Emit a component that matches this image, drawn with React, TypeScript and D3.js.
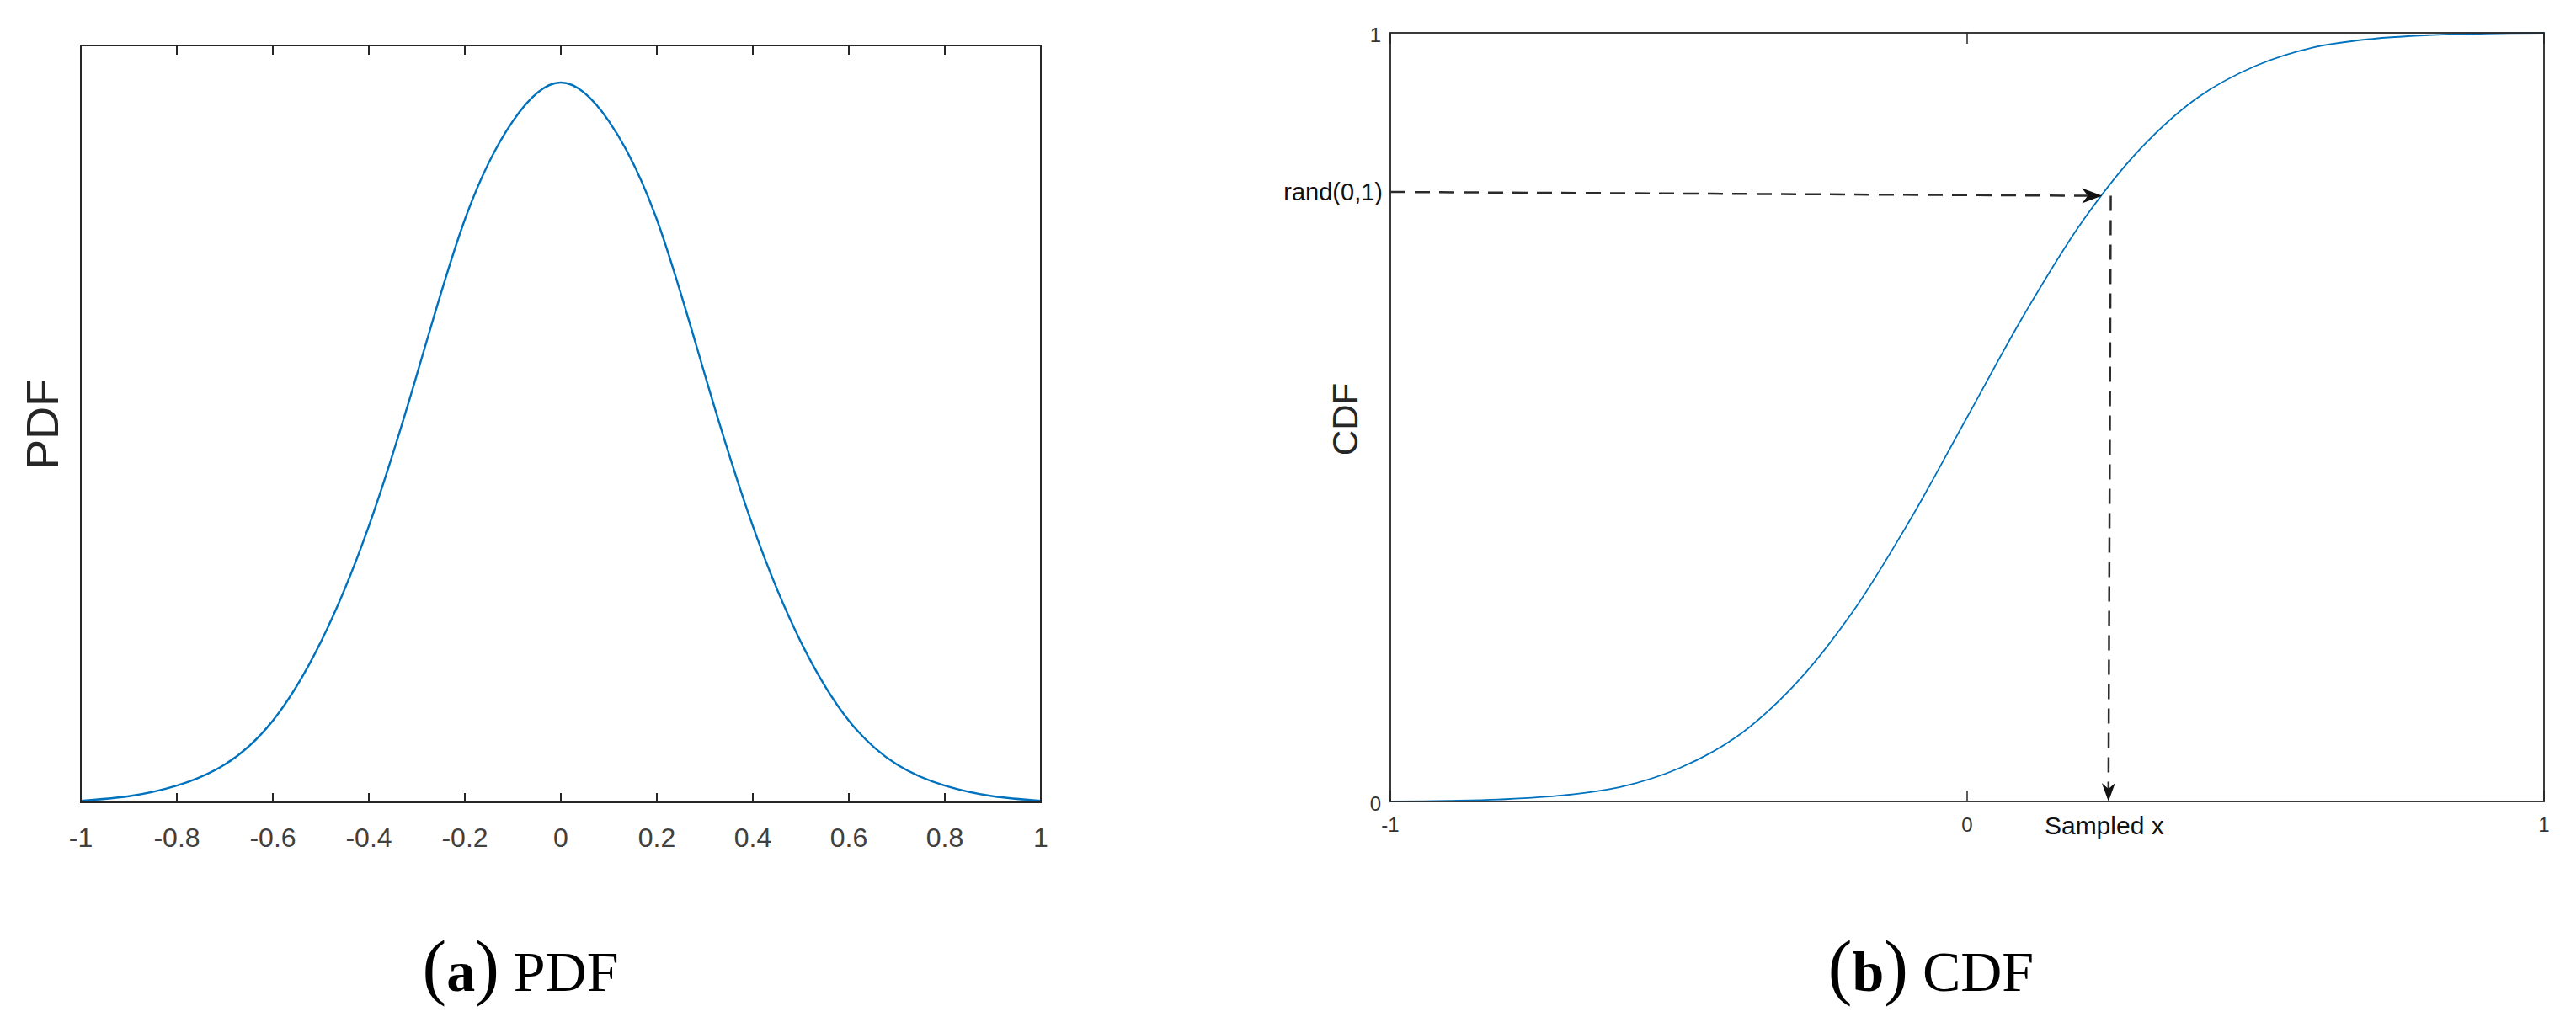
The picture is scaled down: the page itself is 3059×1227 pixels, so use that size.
import React from "react";
import * as d3 from "d3";

// ---------- data ----------
const pdfX = [-1, -0.9, -0.8, -0.7, -0.6, -0.5, -0.4, -0.3, -0.2, -0.1, 0, 0.1, 0.2, 0.3, 0.4, 0.5, 0.6, 0.7, 0.8, 0.9, 1];
const pdfY = [0.002, 0.008, 0.022, 0.05, 0.108, 0.212, 0.365, 0.565, 0.77, 0.9, 0.951, 0.9, 0.77, 0.565, 0.365, 0.212, 0.108, 0.05, 0.022, 0.008, 0.002];
const pdfTicks = [-1, -0.8, -0.6, -0.4, -0.2, 0, 0.2, 0.4, 0.6, 0.8, 1];

const cdfX = [-1, -0.9, -0.8, -0.7, -0.6, -0.5, -0.4, -0.3, -0.2, -0.1, 0, 0.1, 0.2, 0.3, 0.4, 0.5, 0.6, 0.7, 0.8, 0.9, 1];
const cdfY = [0, 0.001, 0.003, 0.008, 0.019, 0.043, 0.084, 0.151, 0.245, 0.365, 0.5, 0.635, 0.755, 0.849, 0.916, 0.957, 0.981, 0.992, 0.997, 0.999, 1];
const cdfXTicks = [-1, 0, 1];
const cdfYTicks = [0, 1];

// sampling annotation (data units)
const randStart = { x: -1, u: 0.793 };
const randEnd = { x: 0.234, u: 0.788 };
const sampleTop = { x: 0.249, u: 0.788 };
const sampleBottom = { x: 0.245, u: 0 };

const AXIS = "#262626";
const BLUE = "#0072BD";
const FONT = "'Liberation Sans', Arial, Helvetica, sans-serif";
const SERIF = "'Liberation Serif', 'Times New Roman', serif";

export default function App() {
  // ----- left panel -----
  const L = { left: 96, right: 1236, top: 54, bottom: 953 };
  const xL = d3.scaleLinear().domain([-1, 1]).range([L.left, L.right]);
  const yL = d3.scaleLinear().domain([0, 1]).range([L.bottom, L.top]);
  const pdfLine = d3
    .line<number>()
    .x((_, i) => xL(pdfX[i]))
    .y((d) => yL(d))
    .curve(d3.curveNatural);

  // ----- right panel -----
  const R = { left: 1651, right: 3021, top: 39, bottom: 952 };
  const xR = d3.scaleLinear().domain([-1, 1]).range([R.left, R.right]);
  const yR = d3.scaleLinear().domain([0, 1]).range([R.bottom, R.top]);
  const cdfLine = d3
    .line<number>()
    .x((_, i) => xR(cdfX[i]))
    .y((d) => yR(d))
    .curve(d3.curveCatmullRom.alpha(0.5));

  const hx1 = xR(randStart.x), hy1 = yR(randStart.u);
  const hx2 = xR(randEnd.x), hy2 = yR(randEnd.u);
  const vx1 = xR(sampleTop.x), vy1 = yR(sampleTop.u);
  const vx2 = xR(sampleBottom.x), vy2 = yR(sampleBottom.u);

  // arrowhead shapes (vback style)
  const arrowRight = (tx: number, ty: number) =>
    `M${tx},${ty} L${tx - 24},${ty - 9} L${tx - 17},${ty} L${tx - 24},${ty + 9} Z`;
  const arrowDown = (tx: number, ty: number) =>
    `M${tx},${ty} L${tx - 8},${ty - 22} L${tx},${ty - 15} L${tx + 8},${ty - 22} Z`;

  return (
    <svg
      width={3059}
      height={1227}
      style={{ position: "absolute", left: 0, top: 0, background: "#fff" }}
    >
      <rect x={0} y={0} width={3059} height={1227} fill="#fff" />

      {/* ===== Left panel (a) ===== */}
      <g>
        <path d={pdfLine(pdfY) || ""} fill="none" stroke={BLUE} strokeWidth={2.4} />
        <rect
          x={L.left}
          y={L.top}
          width={L.right - L.left}
          height={L.bottom - L.top}
          fill="none"
          stroke={AXIS}
          strokeWidth={2}
        />
        {pdfTicks.map((t) => (
          <g key={t}>
            <line x1={xL(t)} x2={xL(t)} y1={L.bottom} y2={L.bottom - 11} stroke={AXIS} strokeWidth={2} />
            <line x1={xL(t)} x2={xL(t)} y1={L.top} y2={L.top + 11} stroke={AXIS} strokeWidth={2} />
            <text
              x={xL(t)}
              y={995}
              dy="0.35em"
              textAnchor="middle"
              fontFamily={FONT}
              fontSize={32}
              fill="#404040"
            >
              {String(t)}
            </text>
          </g>
        ))}
        <text
          transform={`translate(50,504) rotate(-90)`}
          textAnchor="middle"
          dy="0.35em"
          fontFamily={FONT}
          fontSize={54}
          fill={AXIS}
        >
          PDF
        </text>
        <text x={618} y={1177} textAnchor="middle" fontFamily={SERIF} fill="#000">
          <tspan fontSize={86} fontWeight={300}>(</tspan>
          <tspan fontSize={68} fontWeight="bold">a</tspan>
          <tspan fontSize={86} fontWeight={300}>)</tspan>
          <tspan fontSize={68}> PDF</tspan>
        </text>
      </g>

      {/* ===== Right panel (b) ===== */}
      <g>
        <path d={cdfLine(cdfY) || ""} fill="none" stroke={BLUE} strokeWidth={1.8} />
        <rect
          x={R.left}
          y={R.top}
          width={R.right - R.left}
          height={R.bottom - R.top}
          fill="none"
          stroke={AXIS}
          strokeWidth={1.8}
        />
        {cdfXTicks.map((t) => (
          <g key={t}>
            <line x1={xR(t)} x2={xR(t)} y1={R.bottom} y2={R.bottom - 13} stroke={AXIS} strokeWidth={1.5} />
            <line x1={xR(t)} x2={xR(t)} y1={R.top} y2={R.top + 13} stroke={AXIS} strokeWidth={1.5} />
            <text
              x={xR(t)}
              y={980}
              dy="0.35em"
              textAnchor="middle"
              fontFamily={FONT}
              fontSize={24}
              fill="#333"
            >
              {String(t)}
            </text>
          </g>
        ))}
        {cdfYTicks.map((t) => (
          <text
            key={t}
            x={R.left - 11}
            y={yR(t) + 3}
            dy="0.35em"
            textAnchor="end"
            fontFamily={FONT}
            fontSize={24}
            fill="#333"
          >
            {String(t)}
          </text>
        ))}
        <text
          transform={`translate(1597,498) rotate(-90)`}
          textAnchor="middle"
          dy="0.35em"
          fontFamily={FONT}
          fontSize={42}
          fill={AXIS}
        >
          CDF
        </text>

        {/* rand(0,1) horizontal dashed arrow */}
        <line
          x1={hx1}
          y1={hy1}
          x2={hx2 - 17}
          y2={hy2}
          stroke="#2a2a2a"
          strokeWidth={2.5}
          strokeDasharray="18 11"
        />
        <path d={arrowRight(hx2, hy2)} fill="#111" />
        <text
          x={R.left - 9}
          y={hy1}
          dy="0.35em"
          textAnchor="end"
          fontFamily={FONT}
          fontSize={29}
          fill="#111"
        >
          rand(0,1)
        </text>

        {/* sampled x vertical dashed arrow */}
        <line
          x1={vx1}
          y1={vy1}
          x2={vx2}
          y2={vy2 - 15}
          stroke="#2a2a2a"
          strokeWidth={2.5}
          strokeDasharray="18 11"
        />
        <path d={arrowDown(vx2, vy2)} fill="#111" />
        <text
          x={vx2 - 5}
          y={980}
          dy="0.35em"
          textAnchor="middle"
          fontFamily={FONT}
          fontSize={30}
          fill="#111"
        >
          Sampled x
        </text>

        <text x={2293} y={1177} textAnchor="middle" fontFamily={SERIF} fill="#000">
          <tspan fontSize={86} fontWeight={300}>(</tspan>
          <tspan fontSize={68} fontWeight="bold">b</tspan>
          <tspan fontSize={86} fontWeight={300}>)</tspan>
          <tspan fontSize={68}> CDF</tspan>
        </text>
      </g>
    </svg>
  );
}
